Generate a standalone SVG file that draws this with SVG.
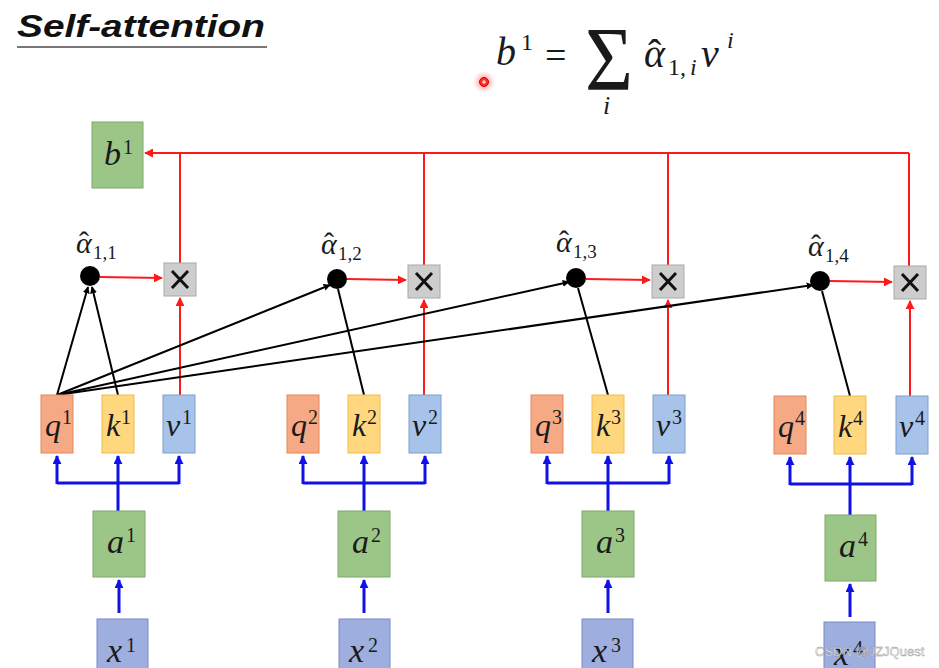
<svg xmlns="http://www.w3.org/2000/svg" width="939" height="668" viewBox="0 0 939 668">
  <defs>
    <marker id="arBlue" viewBox="0 0 10 10" refX="9" refY="5" markerWidth="9" markerHeight="9" orient="auto" markerUnits="userSpaceOnUse">
      <path d="M0,0 L10,5 L0,10 z" fill="#1010e8"/>
    </marker>
    <marker id="arRed" viewBox="0 0 10 10" refX="9" refY="5" markerWidth="9" markerHeight="9" orient="auto" markerUnits="userSpaceOnUse">
      <path d="M0,0 L10,5 L0,10 z" fill="#ff1a1a"/>
    </marker>
    <marker id="arBlack" viewBox="0 0 10 10" refX="9" refY="5" markerWidth="7" markerHeight="7" orient="auto" markerUnits="userSpaceOnUse">
      <path d="M0,0 L10,5 L0,10 z" fill="#000"/>
    </marker>
    <radialGradient id="glow">
      <stop offset="0" stop-color="#ff3030" stop-opacity="0.55"/>
      <stop offset="1" stop-color="#ff3030" stop-opacity="0"/>
    </radialGradient>
  </defs>
  <style>
    text { font-family: "Liberation Serif", "DejaVu Serif", serif; fill: #1a1a1a; }
    .it { font-style: italic; }
    .up { font-style: normal; }
    .big { font-size: 32px; font-style: italic; }
    .emb { font-size: 34px; font-style: italic; }
    .sup { font-size: 20px; font-style: normal; }
    .al { font-size: 30px; font-style: italic; }
    .hat { font-style: normal; }
    .sub { font-size: 19px; font-style: normal; }
    .q { fill: #f6a985; stroke: #e4875c; stroke-width: 1; }
    .k { fill: #ffd77f; stroke: #f2bd4a; stroke-width: 1; }
    .v { fill: #a8c3ea; stroke: #7c9fd0; stroke-width: 1; }
    .g { fill: #9cc688; stroke: #7faa6c; stroke-width: 1; }
    .x { fill: #9eaedf; stroke: #7889c6; stroke-width: 1; }
    .mul { fill: #cdcdcd; stroke: #a9a9a9; stroke-width: 1; }
    .cross { stroke: #111; stroke-width: 3; fill: none; }
    .red { stroke: #ff1a1a; stroke-width: 2; fill: none; }
    .blue { stroke: #1010e8; stroke-width: 3; fill: none; }
    .blk { stroke: #000; stroke-width: 2; fill: none; }
  </style>

  <rect width="939" height="668" fill="#ffffff"/>

  <!-- heading -->
  <g id="title">
    <text x="17" y="37" style="font-family:'Liberation Sans',Arial,sans-serif;font-weight:bold;font-style:italic;font-size:32px;fill:#111" textLength="248" lengthAdjust="spacingAndGlyphs">Self-attention</text>
    <line x1="17" y1="47" x2="267" y2="47" stroke="#777" stroke-width="2"/>
  </g>

  <!-- weighted sum formula -->
  <g id="formula">
    <text class="it" x="496" y="65" font-size="40">b</text>
    <text class="up" x="521" y="50" font-size="24">1</text>
    <text class="up" x="545" y="68" font-size="38">=</text>
    <text class="up" x="585" y="90" font-size="92" textLength="48" lengthAdjust="spacingAndGlyphs">Σ</text>
    <text class="it" x="603" y="114" font-size="26">i</text>
    <text class="it" font-size="40"><tspan x="644" y="67">α</tspan><tspan class="hat" x="648" y="67">ˆ</tspan><tspan class="up" x="668" y="75" font-size="24">1,</tspan><tspan x="690" y="75" font-size="24">i</tspan></text>
    <text class="it" x="701" y="67" font-size="40">v</text>
    <text class="it" x="727" y="48" font-size="24">i</text>
  </g>

  <!-- pointer dot -->
  <g id="pointer">
    <circle cx="484" cy="82" r="11" fill="url(#glow)"/>
    <circle cx="484" cy="82" r="4.5" fill="#ff2a2a" stroke="#d00000" stroke-width="1"/>
    <circle cx="484" cy="82" r="1.8" fill="#ffd0d0"/>
  </g>

  <!-- connectors -->
  <g id="connectors">
    <!-- sum bus into b1 -->
    <line class="red" x1="909" y1="153" x2="145" y2="153" marker-end="url(#arRed)"/>
    <line class="red" x1="180" y1="153" x2="180" y2="263"/>
    <line class="red" x1="424" y1="153" x2="424" y2="265"/>
    <line class="red" x1="668" y1="153" x2="668" y2="265"/>
    <line class="red" x1="909" y1="153" x2="909" y2="266"/>
    <!-- score -> multiply -->
    <line class="red" x1="100" y1="277" x2="162" y2="278" marker-end="url(#arRed)"/>
    <line class="red" x1="347" y1="279" x2="406" y2="280" marker-end="url(#arRed)"/>
    <line class="red" x1="586" y1="279" x2="650" y2="280" marker-end="url(#arRed)"/>
    <line class="red" x1="830" y1="281" x2="892" y2="282" marker-end="url(#arRed)"/>
    <!-- v -> multiply -->
    <line class="red" x1="180" y1="395" x2="180" y2="298" marker-end="url(#arRed)"/>
    <line class="red" x1="424" y1="395" x2="424" y2="300" marker-end="url(#arRed)"/>
    <line class="red" x1="668" y1="395" x2="668" y2="300" marker-end="url(#arRed)"/>
    <line class="red" x1="910" y1="396" x2="910" y2="301" marker-end="url(#arRed)"/>
    <!-- q1 against every key -->
    <line class="blk" x1="57" y1="395" x2="88" y2="287" marker-end="url(#arBlack)"/>
    <line class="blk" x1="57" y1="395" x2="330" y2="285" marker-end="url(#arBlack)"/>
    <line class="blk" x1="57" y1="395" x2="569" y2="282" marker-end="url(#arBlack)"/>
    <line class="blk" x1="57" y1="395" x2="813" y2="285" marker-end="url(#arBlack)"/>
    <line class="blk" x1="118" y1="395" x2="92" y2="287" marker-end="url(#arBlack)"/>
    <line class="blk" x1="364" y1="395" x2="338" y2="289"/>
    <line class="blk" x1="608" y1="395" x2="578" y2="288"/>
    <line class="blk" x1="850" y1="396" x2="822" y2="291"/>
    <!-- embeddings -> q, k, v -->
    <path class="blue" d="M57,483 H179 M118,511 V483 M303,483 H425 M364,511 V483 M547,483 H669 M608,511 V483 M790,484 H912 M850,515 V484"/>
    <line class="blue" x1="57" y1="484" x2="57" y2="456" marker-end="url(#arBlue)"/>
    <line class="blue" x1="118" y1="484" x2="118" y2="456" marker-end="url(#arBlue)"/>
    <line class="blue" x1="179" y1="484" x2="179" y2="456" marker-end="url(#arBlue)"/>
    <line class="blue" x1="303" y1="484" x2="303" y2="456" marker-end="url(#arBlue)"/>
    <line class="blue" x1="364" y1="484" x2="364" y2="456" marker-end="url(#arBlue)"/>
    <line class="blue" x1="425" y1="484" x2="425" y2="456" marker-end="url(#arBlue)"/>
    <line class="blue" x1="547" y1="484" x2="547" y2="456" marker-end="url(#arBlue)"/>
    <line class="blue" x1="608" y1="484" x2="608" y2="456" marker-end="url(#arBlue)"/>
    <line class="blue" x1="669" y1="484" x2="669" y2="456" marker-end="url(#arBlue)"/>
    <line class="blue" x1="790" y1="485" x2="790" y2="457" marker-end="url(#arBlue)"/>
    <line class="blue" x1="850" y1="485" x2="850" y2="457" marker-end="url(#arBlue)"/>
    <line class="blue" x1="912" y1="485" x2="912" y2="457" marker-end="url(#arBlue)"/>
    <!-- x -> a -->
    <line class="blue" x1="119" y1="613" x2="119" y2="580" marker-end="url(#arBlue)"/>
    <line class="blue" x1="364" y1="613" x2="364" y2="580" marker-end="url(#arBlue)"/>
    <line class="blue" x1="608" y1="613" x2="608" y2="580" marker-end="url(#arBlue)"/>
    <line class="blue" x1="850" y1="617" x2="850" y2="584" marker-end="url(#arBlue)"/>
  </g>

  <!-- output -->
  <g id="b1">
    <rect class="g" x="92" y="122" width="51" height="66"/>
    <text class="emb" x="104" y="165">b</text><text class="sup" x="123" y="154">1</text>
  </g>

  <!-- attention scores -->
  <g id="alpha1">
    <circle cx="90" cy="276" r="10" fill="#000"/>
    <text class="al"><tspan x="76" y="253">α</tspan><tspan class="hat" x="79" y="252">ˆ</tspan><tspan class="sub" x="93" y="259">1,1</tspan></text>
  </g>
  <g id="alpha2">
    <circle cx="337" cy="279" r="10" fill="#000"/>
    <text class="al"><tspan x="321" y="254">α</tspan><tspan class="hat" x="324" y="253">ˆ</tspan><tspan class="sub" x="338" y="260">1,2</tspan></text>
  </g>
  <g id="alpha3">
    <circle cx="576" cy="278" r="10" fill="#000"/>
    <text class="al"><tspan x="556" y="252">α</tspan><tspan class="hat" x="559" y="251">ˆ</tspan><tspan class="sub" x="573" y="258">1,3</tspan></text>
  </g>
  <g id="alpha4">
    <circle cx="820" cy="281" r="10" fill="#000"/>
    <text class="al"><tspan x="808" y="256">α</tspan><tspan class="hat" x="811" y="255">ˆ</tspan><tspan class="sub" x="825" y="262">1,4</tspan></text>
  </g>

  <!-- multiply nodes -->
  <g id="mul1"><rect class="mul" x="164" y="263" width="32" height="33"/><path class="cross" d="M172,271 L188,288 M188,271 L172,288"/></g>
  <g id="mul2"><rect class="mul" x="408" y="265" width="32" height="33"/><path class="cross" d="M416,273 L432,290 M432,273 L416,290"/></g>
  <g id="mul3"><rect class="mul" x="652" y="265" width="32" height="33"/><path class="cross" d="M660,273 L676,290 M676,273 L660,290"/></g>
  <g id="mul4"><rect class="mul" x="894" y="266" width="32" height="33"/><path class="cross" d="M902,274 L918,291 M918,274 L902,291"/></g>

  <!-- query / key / value boxes -->
  <g id="q1"><rect class="q" x="41" y="395" width="32" height="58"/><text class="big" x="45" y="436">q</text><text class="sup" x="62" y="424">1</text></g>
  <g id="k1"><rect class="k" x="102" y="395" width="32" height="58"/><text class="big" x="106" y="436">k</text><text class="sup" x="121" y="424">1</text></g>
  <g id="v1"><rect class="v" x="163" y="395" width="32" height="58"/><text class="big" x="166" y="436">v</text><text class="sup" x="182" y="424">1</text></g>

  <g id="q2"><rect class="q" x="287" y="395" width="32" height="58"/><text class="big" x="291" y="436">q</text><text class="sup" x="308" y="424">2</text></g>
  <g id="k2"><rect class="k" x="348" y="395" width="32" height="58"/><text class="big" x="352" y="436">k</text><text class="sup" x="367" y="424">2</text></g>
  <g id="v2"><rect class="v" x="409" y="395" width="32" height="58"/><text class="big" x="412" y="436">v</text><text class="sup" x="428" y="424">2</text></g>

  <g id="q3"><rect class="q" x="531" y="395" width="32" height="58"/><text class="big" x="535" y="436">q</text><text class="sup" x="552" y="424">3</text></g>
  <g id="k3"><rect class="k" x="592" y="395" width="32" height="58"/><text class="big" x="596" y="436">k</text><text class="sup" x="611" y="424">3</text></g>
  <g id="v3"><rect class="v" x="653" y="395" width="32" height="58"/><text class="big" x="656" y="436">v</text><text class="sup" x="672" y="424">3</text></g>

  <g id="q4"><rect class="q" x="774" y="396" width="32" height="58"/><text class="big" x="778" y="437">q</text><text class="sup" x="795" y="425">4</text></g>
  <g id="k4"><rect class="k" x="834" y="396" width="32" height="58"/><text class="big" x="838" y="437">k</text><text class="sup" x="853" y="425">4</text></g>
  <g id="v4"><rect class="v" x="896" y="396" width="32" height="58"/><text class="big" x="899" y="437">v</text><text class="sup" x="915" y="425">4</text></g>

  <!-- embeddings -->
  <g id="a1"><rect class="g" x="93" y="511" width="52" height="66"/><text class="emb" x="107" y="553">a</text><text class="sup" x="126" y="542">1</text></g>
  <g id="a2"><rect class="g" x="338" y="511" width="52" height="66"/><text class="emb" x="352" y="553">a</text><text class="sup" x="371" y="542">2</text></g>
  <g id="a3"><rect class="g" x="582" y="511" width="52" height="66"/><text class="emb" x="596" y="553">a</text><text class="sup" x="615" y="542">3</text></g>
  <g id="a4"><rect class="g" x="825" y="515" width="51" height="66"/><text class="emb" x="839" y="557">a</text><text class="sup" x="858" y="546">4</text></g>

  <!-- inputs -->
  <g id="x1"><rect class="x" x="97" y="619" width="51" height="55"/><text class="emb" x="107" y="662">x</text><text class="sup" x="126" y="652">1</text></g>
  <g id="x2"><rect class="x" x="339" y="619" width="51" height="55"/><text class="emb" x="349" y="662">x</text><text class="sup" x="368" y="652">2</text></g>
  <g id="x3"><rect class="x" x="582" y="619" width="51" height="55"/><text class="emb" x="592" y="662">x</text><text class="sup" x="611" y="652">3</text></g>
  <g id="x4"><rect class="x" x="824" y="622" width="51" height="55"/><text class="emb" x="834" y="665">x</text><text class="sup" x="853" y="655">4</text></g>

  <!-- watermark -->
  <text x="815" y="656" style="font-family:'Liberation Sans',Arial,sans-serif;font-size:13px;fill:#ffffff;fill-opacity:0.85" stroke="#888" stroke-width="0.4">CSDN @JZJQuest</text>
</svg>
